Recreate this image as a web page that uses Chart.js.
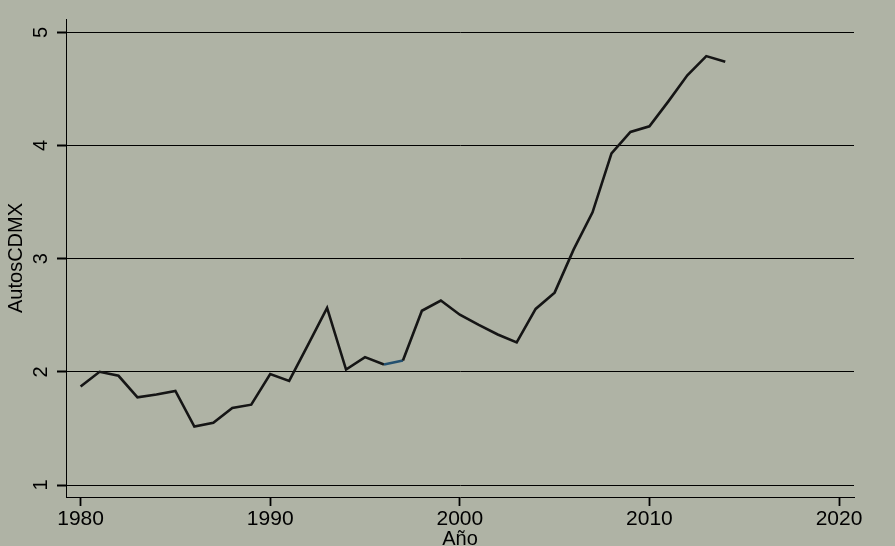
<!DOCTYPE html>
<html>
<head>
<meta charset="utf-8">
<script src="https://cdn.jsdelivr.net/npm/chart.js@4"></script>
<style>
  html, body { margin: 0; padding: 0; background: #afb3a5; }
  #wrap { width: 895px; height: 546px; position: relative; }
</style>
</head>
<body>
<div id="wrap"><canvas id="c" width="895" height="546"></canvas></div>
<script>
// ---- data ----
const years = [1980,1981,1982,1983,1984,1985,1986,1987,1988,1989,
               1990,1991,1992,1993,1994,1995,1996,1997,1998,1999,
               2000,2001,2002,2003,2004,2005,2006,2007,2008,2009,
               2010,2011,2012,2013,2014];
const autosCDMX = [1.87,2.00,1.965,1.775,1.80,1.832,1.517,1.55,1.68,1.71,
                   1.98,1.92,2.24,2.565,2.02,2.13,2.065,2.10,2.54,2.63,
                   2.505,2.415,2.33,2.26,2.556,2.70,3.08,3.41,3.93,4.12,
                   4.17,4.39,4.62,4.79,4.74];
const xTickValues = [1980,1990,2000,2010,2020];
const yTickValues = [1,2,3,4,5];
const xTitle = 'Año';
const yTitle = 'AutosCDMX';
const highlightStartYear = 1996; // segment drawn in blue

const FONT = "'Liberation Sans', Arial, sans-serif";
const blueIdx = years.indexOf(highlightStartYear);

new Chart(document.getElementById('c'), {
  type: 'line',
  data: {
    datasets: [{
      data: years.map((y, i) => ({ x: y, y: autosCDMX[i] })),
      borderColor: '#151515',
      borderWidth: 2.6,
      pointRadius: 0,
      tension: 0,
      fill: false,
      segment: {
        borderColor: ctx => ctx.p0DataIndex === blueIdx ? '#23506f' : undefined
      }
    }]
  },
  options: {
    responsive: false,
    animation: false,
    devicePixelRatio: 1,
    layout: { padding: { top: 19, right: 41, bottom: 0, left: 0 } },
    plugins: { legend: { display: false }, tooltip: { enabled: false } },
    scales: {
      x: {
        type: 'linear',
        position: 'bottom',
        min: 1979.23,
        max: 2020.79,
        afterBuildTicks: s => { s.ticks = xTickValues.map(v => ({ value: v })); },
        afterFit: s => { s.height = 49; s.paddingLeft = 0; s.paddingRight = 0; },
        grid: { display: true, drawOnChartArea: false, drawTicks: true,
                tickLength: 9, tickWidth: 1.8, tickColor: '#000', color: '#000' },
        border: { display: true, color: '#000', width: 1 },
        ticks: { color: '#000', padding: 1, maxRotation: 0, minRotation: 0,
                 font: { family: FONT, size: 21, lineHeight: 1.2 },
                 callback: v => String(v) },
        title: { display: true, text: xTitle, color: '#000',
                 font: { family: FONT, size: 20, lineHeight: 1.2 },
                 padding: { top: 0, bottom: -5 } }
      },
      y: {
        type: 'linear',
        position: 'left',
        min: 0.894,
        max: 5.118,
        afterBuildTicks: s => { s.ticks = yTickValues.map(v => ({ value: v })); },
        afterFit: s => { s.width = 66; s.paddingTop = 0; s.paddingBottom = 0; },
        grid: { display: true, drawOnChartArea: true, drawTicks: true,
                tickLength: 9, tickWidth: 2, tickColor: '#000', color: '#000', lineWidth: 1 },
        border: { display: true, color: '#000', width: 1 },
        ticks: { color: '#000', padding: 10, minRotation: 90, maxRotation: 90,
                 crossAlign: 'center',
                 font: { family: FONT, size: 20, lineHeight: 1.2 },
                 callback: v => String(v) },
        title: { display: true, text: yTitle, color: '#000',
                 font: { family: FONT, size: 20, lineHeight: 1.2 },
                 padding: { top: 4, bottom: 0 } }
      }
    }
  }
});
</script>
</body>
</html>
